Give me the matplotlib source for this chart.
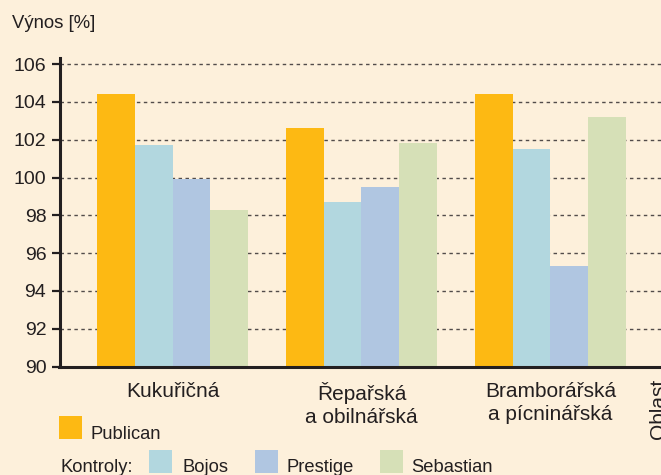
import matplotlib
matplotlib.use("Agg")
import matplotlib.pyplot as plt
from matplotlib.patches import Rectangle
import numpy as np

plt.rcParams['font.family'] = ['Liberation Sans', 'DejaVu Sans']

# -----------------------------
# Data
# -----------------------------
oblasti = ["Kukuřičná", "Řepařská\na obilnářská", "Bramborářská\na pícninářská"]
odrudy = ["Publican", "Bojos", "Prestige", "Sebastian"]
publican = [104.4, 102.6, 104.4]
bojos = [101.7, 98.7, 101.5]
prestige = [99.9, 99.5, 95.3]
sebastian = [98.3, 101.8, 103.2]
yticks = [90, 92, 94, 96, 98, 100, 102, 104, 106]

barvy = ["#FDB913", "#B2D7DF", "#B0C6E1", "#D6E0B7"]
pozadi = "#FDF0DB"
text_c = "#231F20"

W, H = 661, 475
fig = plt.figure(figsize=(W / 100, H / 100), dpi=100, facecolor=pozadi)

# axes placed in pixel terms of the reference
x0, x1 = 59.5, 661
y_bottom = 366.5
px_per_unit = 18.9
ylim = (90, 106.3)
ax = fig.add_axes([x0 / W, (H - y_bottom) / H, (x1 - x0) / W,
                   (ylim[1] - ylim[0]) * px_per_unit / H])
ax.set_facecolor(pozadi)

x = np.arange(len(oblasti))
width = 0.2
for i, (vals, c) in enumerate(zip([publican, bojos, prestige, sebastian], barvy)):
    ax.bar(x + (i - 1.5) * width, np.array(vals) - ylim[0], width=width,
           bottom=ylim[0], color=c, zorder=3, linewidth=0)

ax.set_ylim(*ylim)
ax.set_xlim(-0.598, 2.585)
ax.set_yticks(yticks)
ax.set_yticklabels([str(t) for t in yticks], fontsize=14, color=text_c)
ax.set_xticks(x)
ax.set_xticklabels(oblasti, fontsize=15, color=text_c, linespacing=1.25)
ax.tick_params(axis='x', length=0, pad=11)
ax.tick_params(axis='y', direction='out', length=5.5, width=1.6,
               color=text_c, pad=4)

for t in yticks[1:]:
    ax.axhline(t, color="#524c4a", lw=1.0, ls=(0, (2.5, 2.5)), zorder=1)

for s in ["top", "right"]:
    ax.spines[s].set_visible(False)
for s in ["left", "bottom"]:
    ax.spines[s].set_linewidth(2.2)
    ax.spines[s].set_color(text_c)
    ax.spines[s].set_zorder(4)

# axis titles
fig.text(12 / W, 1 - 28 / H, "Výnos [%]", fontsize=13.3, color=text_c,
         ha='left', va='baseline')
fig.text(649 / W, 1 - 379 / H, "Oblast", fontsize=15, color=text_c,
         rotation=90, ha='left', va='top')

# legend
def swatch(xp, yp, c):
    fig.patches.append(Rectangle((xp / W, 1 - (yp + 22.5) / H), 22.7 / W,
                                 22.5 / H, transform=fig.transFigure,
                                 facecolor=c, edgecolor='none'))

swatch(59, 416, barvy[0])
fig.text(90 / W, 1 - 439 / H, odrudy[0], fontsize=13.2, color=text_c,
         va='baseline')
fig.text(60 / W, 1 - 472 / H, "Kontroly:", fontsize=13.2, color=text_c,
         va='baseline')
for xs, xt, name, c in zip([149, 255, 380], [182, 286, 411], odrudy[1:], barvy[1:]):
    swatch(xs, 450, c)
    fig.text(xt / W, 1 - 472 / H, name, fontsize=13.2, color=text_c,
             va='baseline')

fig.savefig("out.png", dpi=100, facecolor=pozadi)
